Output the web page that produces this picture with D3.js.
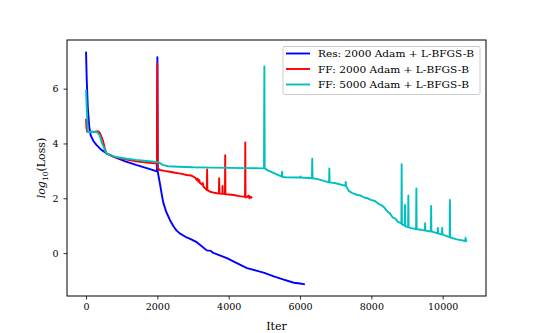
<!DOCTYPE html>
<html>
<head>
<meta charset="utf-8">
<script src="https://cdn.jsdelivr.net/npm/d3@7"></script>
<style>
  body { margin: 0; background: #fff; }
  svg text { font-family: "DejaVu Serif", serif; fill: #000; }
</style>
</head>
<body>
<div id="chart"></div>
<script>
// Res: 2000 Adam + L-BFGS-B
const resIter = [0, 20, 50, 90, 130, 200, 290, 400, 569, 800, 1100, 1400, 1700, 1990, 2000, 2010, 2070, 2118, 2164, 2250, 2352, 2450, 2540, 2650, 2822, 2950, 3104, 3200, 3386, 3500, 3550, 3750, 3950, 4200, 4513, 4800, 5000, 5264, 5500, 5827, 6000, 6137];
const resLoss = [7.35, 6.3, 5.3, 4.6, 4.3, 4.1, 3.95, 3.8, 3.64, 3.5, 3.35, 3.22, 3.1, 2.98, 7.15, 2.97, 2.55, 2.18, 1.85, 1.5, 1.21, 0.98, 0.82, 0.7, 0.57, 0.5, 0.4, 0.3, 0.1, 0.08, 0.02, -0.08, -0.18, -0.35, -0.55, -0.65, -0.72, -0.85, -0.95, -1.08, -1.11, -1.14];

// FF: 2000 Adam + L-BFGS-B
const ff2Iter = [0, 10, 30, 150, 250, 330, 380, 430, 474, 520, 569, 800, 1100, 1400, 1700, 1990, 2000, 2010, 2070, 2200, 2352, 2500, 2650, 2822, 2950, 3010, 3060, 3104, 3130, 3150, 3175, 3200, 3250, 3270, 3292, 3340, 3388, 3395, 3402, 3480, 3600, 3725, 3733, 3741, 3820, 3827, 3834, 3895, 3902, 3909, 4000, 4137, 4300, 4458, 4465, 4472, 4513, 4560, 4580, 4620, 4654];
const ff2Loss = [4.9, 4.6, 4.42, 4.43, 4.43, 4.45, 4.4, 4.25, 4.1, 3.85, 3.64, 3.5, 3.42, 3.35, 3.3, 3.27, 6.92, 3.1, 3.03, 3.0, 2.97, 2.93, 2.9, 2.85, 2.83, 2.79, 2.75, 2.67, 2.72, 2.6, 2.66, 2.55, 2.5, 2.56, 2.42, 2.36, 2.3, 3.05, 2.3, 2.24, 2.2, 2.17, 2.73, 2.17, 2.16, 2.45, 2.16, 2.15, 3.57, 2.15, 2.14, 2.12, 2.08, 2.05, 4.04, 2.04, 2.04, 2.1, 2.0, 2.06, 2.0];

// FF: 5000 Adam + L-BFGS-B
const ff5Iter = [0, 20, 50, 100, 200, 300, 380, 450, 569, 800, 1100, 1400, 1700, 1977, 2050, 2150, 2305, 2600, 3000, 3500, 4000, 4500, 4990, 5000, 5010, 5100, 5300, 5490, 5498, 5506, 5600, 6005, 6015, 6025, 6335, 6343, 6351, 6500, 6766, 6815, 6822, 6830, 7000, 7275, 7281, 7290, 7375, 7450, 7611, 7700, 7800, 7900, 7986, 8100, 8200, 8268, 8350, 8456, 8520, 8600, 8680, 8738, 8842, 8850, 8858, 8936, 8944, 8952, 9030, 9038, 9046, 9113, 9255, 9263, 9271, 9400, 9500, 9508, 9516, 9668, 9676, 9684, 9857, 9865, 9873, 9978, 9986, 9994, 10146, 10195, 10203, 10211, 10400, 10635, 10643, 10651, 10681];
const ff5Loss = [5.96, 5.3, 4.42, 4.42, 4.42, 4.42, 4.3, 4.0, 3.64, 3.52, 3.45, 3.4, 3.36, 3.33, 3.3, 3.22, 3.17, 3.15, 3.13, 3.12, 3.11, 3.1, 3.09, 6.81, 3.09, 3.02, 2.9, 2.79, 2.97, 2.78, 2.77, 2.76, 2.8, 2.76, 2.73, 3.44, 2.73, 2.7, 2.6, 2.58, 3.09, 2.58, 2.55, 2.45, 2.6, 2.45, 2.26, 2.2, 2.12, 2.1, 2.03, 2.0, 1.94, 1.9, 1.8, 1.76, 1.68, 1.51, 1.45, 1.3, 1.25, 1.15, 1.08, 3.24, 1.05, 1.0, 1.76, 0.98, 0.95, 2.1, 0.94, 0.91, 0.88, 2.36, 0.87, 0.85, 0.82, 1.09, 0.82, 0.79, 1.72, 0.79, 0.72, 0.92, 0.72, 0.68, 0.92, 0.68, 0.6, 0.58, 1.94, 0.57, 0.5, 0.44, 0.56, 0.44, 0.42];

const xTicks = [0, 2000, 4000, 6000, 8000, 10000];
const yTicks = [0, 2, 4, 6];
const seriesNames = ["Res: 2000 Adam + L-BFGS-B", "FF: 2000 Adam + L-BFGS-B", "FF: 5000 Adam + L-BFGS-B"];
const seriesColors = ["#0000ff", "#ff0000", "#00bfbf"];

const width = 539, height = 333;
const margin = { top: 40, right: 53, bottom: 37, left: 67 };

const svg = d3.select("#chart").append("svg")
    .attr("width", width)
    .attr("height", height);

const series = [
    resIter.map((x, i) => [x, resLoss[i]]),
    ff2Iter.map((x, i) => [x, ff2Loss[i]]),
    ff5Iter.map((x, i) => [x, ff5Loss[i]])
];

// matplotlib style 5% padding around the data
const allPts = series.flat();
const [x0, x1] = d3.extent(allPts, d => d[0]);
const [y0, y1] = d3.extent(allPts, d => d[1]);
const xPad = (x1 - x0) * 0.05, yPad = (y1 - y0) * 0.05;

const x = d3.scaleLinear()
    .domain([x0 - xPad, x1 + xPad])
    .range([margin.left, width - margin.right]);

const y = d3.scaleLinear()
    .domain([y0 - yPad, y1 + yPad])
    .range([height - margin.bottom, margin.top]);

const line = d3.line()
    .x(d => x(d[0]))
    .y(d => y(d[1]));

svg.append("g")
    .selectAll("path")
    .data(series)
    .enter()
    .append("path")
    .attr("d", line)
    .attr("fill", "none")
    .attr("stroke", (d, i) => seriesColors[i])
    .attr("stroke-width", 1.9)
    .attr("stroke-linejoin", "round");

// axes
const xAxis = svg.append("g")
    .attr("transform", `translate(0, ${height - margin.bottom})`)
    .call(d3.axisBottom(x).tickValues(xTicks).tickFormat(d3.format("d")).tickSizeOuter(0).tickSize(3.5).tickPadding(4));

const yAxis = svg.append("g")
    .attr("transform", `translate(${margin.left}, 0)`)
    .call(d3.axisLeft(y).tickValues(yTicks).tickFormat(d3.format("d")).tickSizeOuter(0).tickSize(3.5).tickPadding(5));

[xAxis, yAxis].forEach(g => {
    g.attr("font-family", null);
    g.select(".domain").remove();
    g.selectAll(".tick line").attr("stroke", "#000").attr("stroke-width", 0.8);
    g.selectAll(".tick text")
        .style("font-size", "9.5px")
        .attr("fill", "#222");
});

// frame
svg.append("rect")
    .attr("x", margin.left)
    .attr("y", margin.top)
    .attr("width", width - margin.left - margin.right)
    .attr("height", height - margin.top - margin.bottom)
    .attr("fill", "none")
    .attr("stroke", "#000")
    .attr("stroke-width", 1);

// axis labels
svg.append("text")
    .attr("x", (margin.left + width - margin.right) / 2)
    .attr("y", 330)
    .attr("text-anchor", "middle")
    .style("font-size", "11px")
    .text("Iter");

const yl = svg.append("text")
    .attr("transform", `translate(45, ${(margin.top + height - margin.bottom) / 2}) rotate(-90)`)
    .attr("text-anchor", "middle")
    .style("font-size", "11px");
yl.append("tspan").style("font-style", "italic").text("log");
yl.append("tspan").attr("dy", 3).style("font-size", "7.5px").text("10");
yl.append("tspan").attr("dy", -3).text("(Loss)");

// legend
const legend = svg.append("g");
legend.append("rect")
    .attr("x", 283)
    .attr("y", 46.5)
    .attr("width", 197)
    .attr("height", 48)
    .attr("rx", 2)
    .attr("fill", "#fff")
    .attr("fill-opacity", 0.8)
    .attr("stroke", "#ccc")
    .attr("stroke-width", 1);

seriesNames.forEach((name, i) => {
    const ly = 53.5 + i * 15.5;
    legend.append("line")
        .attr("x1", 286).attr("x2", 310)
        .attr("y1", ly).attr("y2", ly)
        .attr("stroke", seriesColors[i])
        .attr("stroke-width", 1.9);
    legend.append("text")
        .attr("x", 318)
        .attr("y", ly + 3.5)
        .attr("textLength", i === 0 ? 156 : 151)
        .attr("lengthAdjust", "spacingAndGlyphs")
        .style("font-size", "10px")
        .text(name);
});
</script>
</body>
</html>
